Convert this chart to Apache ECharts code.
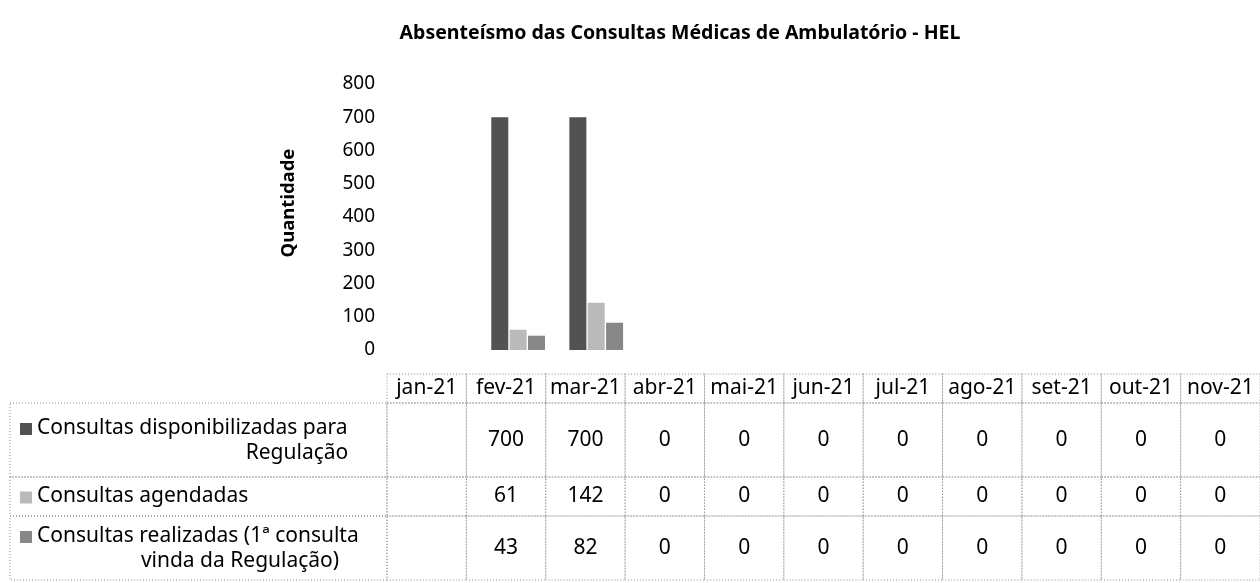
<!DOCTYPE html>
<html>
<head>
<meta charset="utf-8">
<script src="https://cdn.jsdelivr.net/npm/echarts@6/dist/echarts.min.js"></script>
<style>
  html, body { margin: 0; padding: 0; background: #fff; }
  #chart { width: 1260px; height: 583px; }
</style>
</head>
<body>
<div id="chart"></div>
<script>
// dados
const meses = ['jan-21', 'fev-21', 'mar-21', 'abr-21', 'mai-21', 'jun-21', 'jul-21', 'ago-21', 'set-21', 'out-21', 'nov-21'];
const disponibilizadas = [null, 700, 700, 0, 0, 0, 0, 0, 0, 0, 0];
const agendadas = [null, 61, 142, 0, 0, 0, 0, 0, 0, 0, 0];
const realizadas = [null, 43, 82, 0, 0, 0, 0, 0, 0, 0, 0];
const nomesSeries = [
  'Consultas disponibilizadas para\nRegulação',
  'Consultas agendadas',
  'Consultas realizadas (1ª consulta\nvinda da Regulação)'
];
const titulo = 'Absenteísmo das Consultas Médicas de Ambulatório - HEL';
const tituloEixo = 'Quantidade';

const cores = ['#525252', '#bababa', '#878787'];
const fonte = 'Noto Sans';
const fonteTabela = '21px "' + fonte + '"';
const linha = { stroke: '#8c8c8c', lineWidth: 1, lineDash: [1, 2], fill: 'none' };

const valoresTabela = [disponibilizadas, agendadas, realizadas];
// x da segunda linha do rotulo (centro)
const xLinha2 = [297, null, 240];

const celula = (api, texto) => {
  const c = api.coord([api.value(0), 0]);
  const s = api.size([1, 1]);
  return [
    { type: 'rect', shape: { x: c[0] - s[0] / 2, y: c[1] - s[1] / 2, width: s[0], height: s[1] }, style: linha },
    { type: 'text', style: { text: texto, x: c[0], y: c[1], align: 'center', verticalAlign: 'middle', font: fonteTabela, fill: '#000' } }
  ];
};

const renderCabecalho = (params, api) => ({
  type: 'group',
  children: celula(api, meses[api.value(0)])
});

const renderLinha = (r) => (params, api) => {
  const i = api.value(0);
  const v = valoresTabela[r][i];
  const filhos = celula(api, v == null ? '' : String(v));
  if (i === 0) {
    const cs = params.coordSys;
    const linhas = nomesSeries[r].split('\n');
    const y1 = linhas.length > 1 ? cs.y + cs.height / 2 - 12 : cs.y + cs.height / 2;
    filhos.push({ type: 'rect', shape: { x: 10, y: cs.y, width: cs.x - 10, height: cs.height }, style: linha });
    filhos.push({ type: 'rect', shape: { x: 20, y: y1 - 5, width: 12, height: 12 }, style: { fill: cores[r] } });
    filhos.push({ type: 'text', style: { text: linhas[0], x: 37, y: y1, align: 'left', verticalAlign: 'middle', font: fonteTabela, fill: '#000' } });
    if (linhas.length > 1) {
      filhos.push({ type: 'text', style: { text: linhas[1], x: xLinha2[r], y: y1 + 25, align: 'center', verticalAlign: 'middle', font: fonteTabela, fill: '#000' } });
    }
  }
  return { type: 'group', children: filhos };
};

const gradesTabela = [
  { left: 387, right: -2, top: 374, height: 29 },
  { left: 387, right: -2, top: 403, height: 74 },
  { left: 387, right: -2, top: 477, height: 39 },
  { left: 387, right: -2, top: 516, height: 64 }
];

const initChart = () => {
  const myChart = echarts.init(document.getElementById('chart'));

  const xAxes = [{
    type: 'category', gridIndex: 0, data: meses,
    axisLine: { show: false }, axisTick: { show: false }, axisLabel: { show: false }
  }];
  const yAxes = [{
    type: 'value', gridIndex: 0, min: 0, max: 800, interval: 100,
    name: tituloEixo, nameLocation: 'middle', nameGap: 103, nameRotate: 90,
    nameTextStyle: { fontFamily: fonte, fontWeight: 'bold', fontSize: 18.5, color: '#000', padding: [0, 0, 0, 28] },
    axisLine: { show: false }, axisTick: { show: false }, splitLine: { show: false },
    axisLabel: { fontFamily: fonte, fontSize: 19, color: '#000', margin: 26 }
  }];
  gradesTabela.forEach((g, k) => {
    xAxes.push({ type: 'category', gridIndex: k + 1, data: meses, show: false });
    yAxes.push({ type: 'category', gridIndex: k + 1, data: ['r'], show: false });
  });

  const series = [
    { name: nomesSeries[0], type: 'bar', data: disponibilizadas },
    { name: nomesSeries[1], type: 'bar', data: agendadas },
    { name: nomesSeries[2], type: 'bar', data: realizadas }
  ].map((s, k) => Object.assign(s, {
    xAxisIndex: 0, yAxisIndex: 0, barWidth: 17, barGap: '8%',
    itemStyle: { color: cores[k] }
  }));

  series.push({
    type: 'custom', xAxisIndex: 1, yAxisIndex: 1,
    data: meses.map((m, i) => [i, 0]),
    renderItem: renderCabecalho
  });
  [0, 1, 2].forEach((r) => {
    series.push({
      type: 'custom', xAxisIndex: r + 2, yAxisIndex: r + 2,
      data: meses.map((m, i) => [i, 0]),
      renderItem: renderLinha(r)
    });
  });

  myChart.setOption({
    animation: false,
    backgroundColor: '#fff',
    title: {
      text: titulo, left: 675, top: 18, textAlign: 'center',
      textStyle: { fontFamily: fonte, fontWeight: 'bold', fontSize: 19.5, color: '#000' }
    },
    grid: [{ left: 401, right: -4, top: 84, height: 266 }].concat(gradesTabela),
    xAxis: xAxes,
    yAxis: yAxes,
    series: series
  });
};

window.addEventListener('load', () => {
  initChart();
});
</script>
</body>
</html>
